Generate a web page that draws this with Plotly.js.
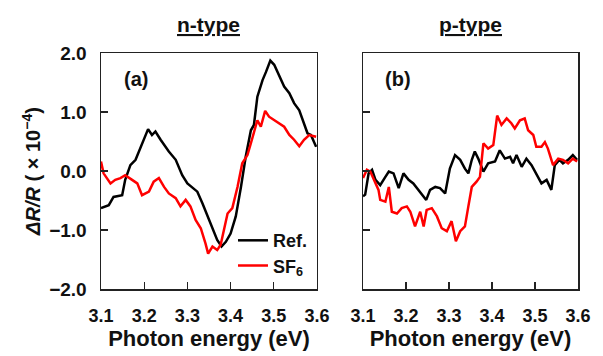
<!DOCTYPE html>
<html>
<head>
<meta charset="utf-8">
<script src="https://cdn.plot.ly/plotly-3.0.1.min.js"></script>
<style>html,body{margin:0;padding:0;background:#fff;}#chart{width:603px;height:356px;}</style>
</head>
<body>
<div id="chart"></div>
<script>
// Panel (a): n-type
const nRefE = [3.100,3.118,3.129,3.149,3.156,3.168,3.180,3.195,3.209,3.218,3.226,3.238,3.257,3.273,3.288,3.300,3.311,3.323,3.335,3.346,3.358,3.369,3.379,3.389,3.400,3.412,3.424,3.435,3.447,3.454,3.462,3.474,3.482,3.492,3.501,3.513,3.524,3.536,3.547,3.559,3.570,3.578,3.586,3.598];
const nRefV = [-0.63,-0.58,-0.44,-0.41,-0.15,0.10,0.19,0.47,0.71,0.61,0.67,0.53,0.33,0.19,-0.07,-0.21,-0.27,-0.35,-0.55,-0.75,-1.00,-1.17,-1.28,-1.20,-1.06,-0.77,-0.27,0.24,0.69,0.78,1.26,1.54,1.68,1.87,1.80,1.60,1.43,1.32,1.15,1.03,0.81,0.64,0.61,0.41];
const nSF6E = [3.100,3.106,3.122,3.133,3.145,3.156,3.172,3.184,3.195,3.211,3.222,3.234,3.246,3.257,3.273,3.284,3.296,3.307,3.319,3.331,3.342,3.348,3.358,3.369,3.377,3.385,3.393,3.404,3.416,3.427,3.439,3.447,3.454,3.462,3.470,3.480,3.489,3.501,3.513,3.524,3.536,3.547,3.559,3.570,3.582,3.598];
const nSF6V = [0.16,-0.04,-0.21,-0.15,-0.12,-0.07,-0.15,-0.21,-0.41,-0.35,-0.18,-0.12,-0.27,-0.38,-0.46,-0.60,-0.49,-0.60,-0.83,-0.97,-1.23,-1.40,-1.28,-1.34,-1.25,-1.00,-0.72,-0.63,-0.27,0.13,0.27,0.47,0.64,0.86,0.75,1.02,0.92,0.86,0.81,0.75,0.61,0.53,0.42,0.53,0.61,0.58];
// Panel (b): p-type
const pRefE = [3.100,3.105,3.113,3.121,3.129,3.140,3.152,3.160,3.171,3.183,3.194,3.206,3.217,3.233,3.247,3.256,3.268,3.279,3.291,3.302,3.314,3.326,3.337,3.345,3.353,3.360,3.368,3.380,3.391,3.407,3.418,3.430,3.442,3.449,3.457,3.469,3.480,3.492,3.503,3.515,3.527,3.538,3.546,3.557,3.565,3.577,3.588,3.598];
const pRefV = [-0.43,-0.40,-0.04,0.02,-0.15,-0.24,-0.10,-0.01,-0.04,-0.29,-0.04,-0.15,-0.21,-0.35,-0.49,-0.32,-0.27,-0.29,-0.38,0.04,0.27,0.19,0.04,-0.04,0.19,0.33,0.21,-0.01,0.13,0.16,0.35,0.21,0.24,0.13,0.27,0.07,0.21,0.10,-0.04,-0.21,-0.15,-0.32,0.10,0.19,0.13,0.19,0.27,0.19];
const pSF6E = [3.100,3.109,3.117,3.125,3.136,3.140,3.152,3.160,3.167,3.179,3.190,3.202,3.210,3.221,3.233,3.241,3.248,3.260,3.272,3.283,3.295,3.306,3.316,3.326,3.337,3.345,3.353,3.364,3.372,3.380,3.391,3.403,3.412,3.422,3.434,3.445,3.453,3.465,3.476,3.484,3.496,3.503,3.515,3.523,3.530,3.542,3.554,3.565,3.577,3.588,3.598];
const pSF6V = [-0.12,0.02,-0.01,-0.15,-0.32,-0.49,-0.52,-0.27,-0.69,-0.72,-0.63,-0.60,-0.69,-0.94,-0.69,-0.94,-0.66,-0.63,-0.77,-0.97,-1.02,-0.85,-1.19,-1.02,-0.94,-0.60,-0.27,-0.18,-0.10,0.47,0.38,0.44,0.94,0.78,0.89,0.81,0.72,0.86,0.89,0.69,0.61,0.41,0.41,0.49,0.38,0.10,0.21,0.19,0.13,0.21,0.16];

const xTicks = [3.1,3.2,3.3,3.4,3.5,3.6];
const xTickText = ['3.1','3.2','3.3','3.4','3.5','3.6'];
const yTicks = [-2,-1,0,1,2];
const yTickText = ['\u22122.0','\u22121.0','0.0','1.0','2.0'];
const seriesNames = ['Ref.','SF<sub>6</sub>'];
const panelTitles = ['n-type','p-type'];
const panelLabels = ['(a)','(b)'];

const FONT = 'Liberation Sans, Arial, sans-serif';
const BLACK = '#000000', RED = '#ff0000';
const LW = 2.5;

const traces = [
  {x:nRefE, y:nRefV, xaxis:'x', yaxis:'y', name:seriesNames[0], mode:'lines', line:{color:BLACK,width:LW}, legend:'legend'},
  {x:nSF6E, y:nSF6V, xaxis:'x', yaxis:'y', name:seriesNames[1], mode:'lines', line:{color:RED,width:LW}, legend:'legend2'},
  {x:pRefE, y:pRefV, xaxis:'x2', yaxis:'y2', name:seriesNames[0], mode:'lines', line:{color:BLACK,width:LW}, showlegend:false},
  {x:pSF6E, y:pSF6V, xaxis:'x2', yaxis:'y2', name:seriesNames[1], mode:'lines', line:{color:RED,width:LW}, showlegend:false}
];

function xax(domain, anchor){
  return {domain:domain, anchor:anchor, range:[3.1,3.6], tickmode:'array', tickvals:xTicks, ticktext:xTickText,
    ticks:'inside', ticklen:7, tickwidth:1.3, tickcolor:'#222', showline:true, linecolor:'#222', linewidth:1.5, mirror:true,
    showgrid:false, zeroline:false, ticklabelstandoff:10,
    tickfont:{family:FONT, size:18, color:'#111', weight:'bold'},
    title:{text:'<b>Photon energy (eV)</b>', font:{family:FONT, size:22, color:'#111'}, standoff:5}};
}
function yax(domain, anchor, labels){
  return {domain:domain, anchor:anchor, range:[-2,2], tickmode:'array', tickvals:yTicks, ticktext:yTickText,
    showticklabels:labels, ticks:'inside', ticklen:7, tickwidth:1.3, tickcolor:'#222',
    showline:true, linecolor:'#222', linewidth:1.5, mirror:true, showgrid:false, zeroline:false,
    ticklabelstandoff:9,
    tickfont:{family:FONT, size:19, color:'#111', weight:'bold'}};
}
function leg(ycenter){
  return {x:0.2767, xanchor:'left', y:ycenter, yanchor:'middle', xref:'paper', yref:'paper',
    bgcolor:'rgba(0,0,0,0)', font:{family:FONT, size:18, color:'#111', weight:'bold'},
    tracegroupgap:0, itemwidth:30};
}

const layout = {
  width:603, height:356, margin:{l:101, r:25, t:53, b:67},
  paper_bgcolor:'#fff', plot_bgcolor:'#fff', showlegend:true,
  xaxis: xax([0,0.4528],'y'),
  yaxis: Object.assign(yax([0,1],'x',true), {title:{text:'<b><i>\u0394R/R</i> ( \u00d7 10<sup>\u22124</sup>)</b>', font:{family:FONT,size:20,color:'#111'}, standoff:3}}),
  xaxis2: xax([0.5493,1],'y2'),
  yaxis2: yax([0,1],'x2',false),
  legend: leg(0.205),
  legend2: leg(0.098),
  annotations:[
    {text:'<b><u>'+panelTitles[0]+'</u></b>', xref:'x domain', yref:'paper', x:0.5, y:1, yshift:15, yanchor:'bottom', xanchor:'center', showarrow:false, font:{family:FONT,size:21,color:'#111'}},
    {text:'<b><u>'+panelTitles[1]+'</u></b>', xref:'x2 domain', yref:'paper', x:0.5, y:1, yshift:15, yanchor:'bottom', xanchor:'center', showarrow:false, font:{family:FONT,size:21,color:'#111'}},
    {text:'<b>'+panelLabels[0]+'</b>', xref:'x domain', yref:'y domain', x:0.163, y:0.89, xanchor:'center', yanchor:'middle', showarrow:false, font:{family:FONT,size:20,color:'#111'}},
    {text:'<b>'+panelLabels[1]+'</b>', xref:'x2 domain', yref:'y2 domain', x:0.163, y:0.89, xanchor:'center', yanchor:'middle', showarrow:false, font:{family:FONT,size:20,color:'#111'}}
  ]
};

Plotly.newPlot('chart', traces, layout, {displayModeBar:false, staticPlot:true});
</script>
</body>
</html>
